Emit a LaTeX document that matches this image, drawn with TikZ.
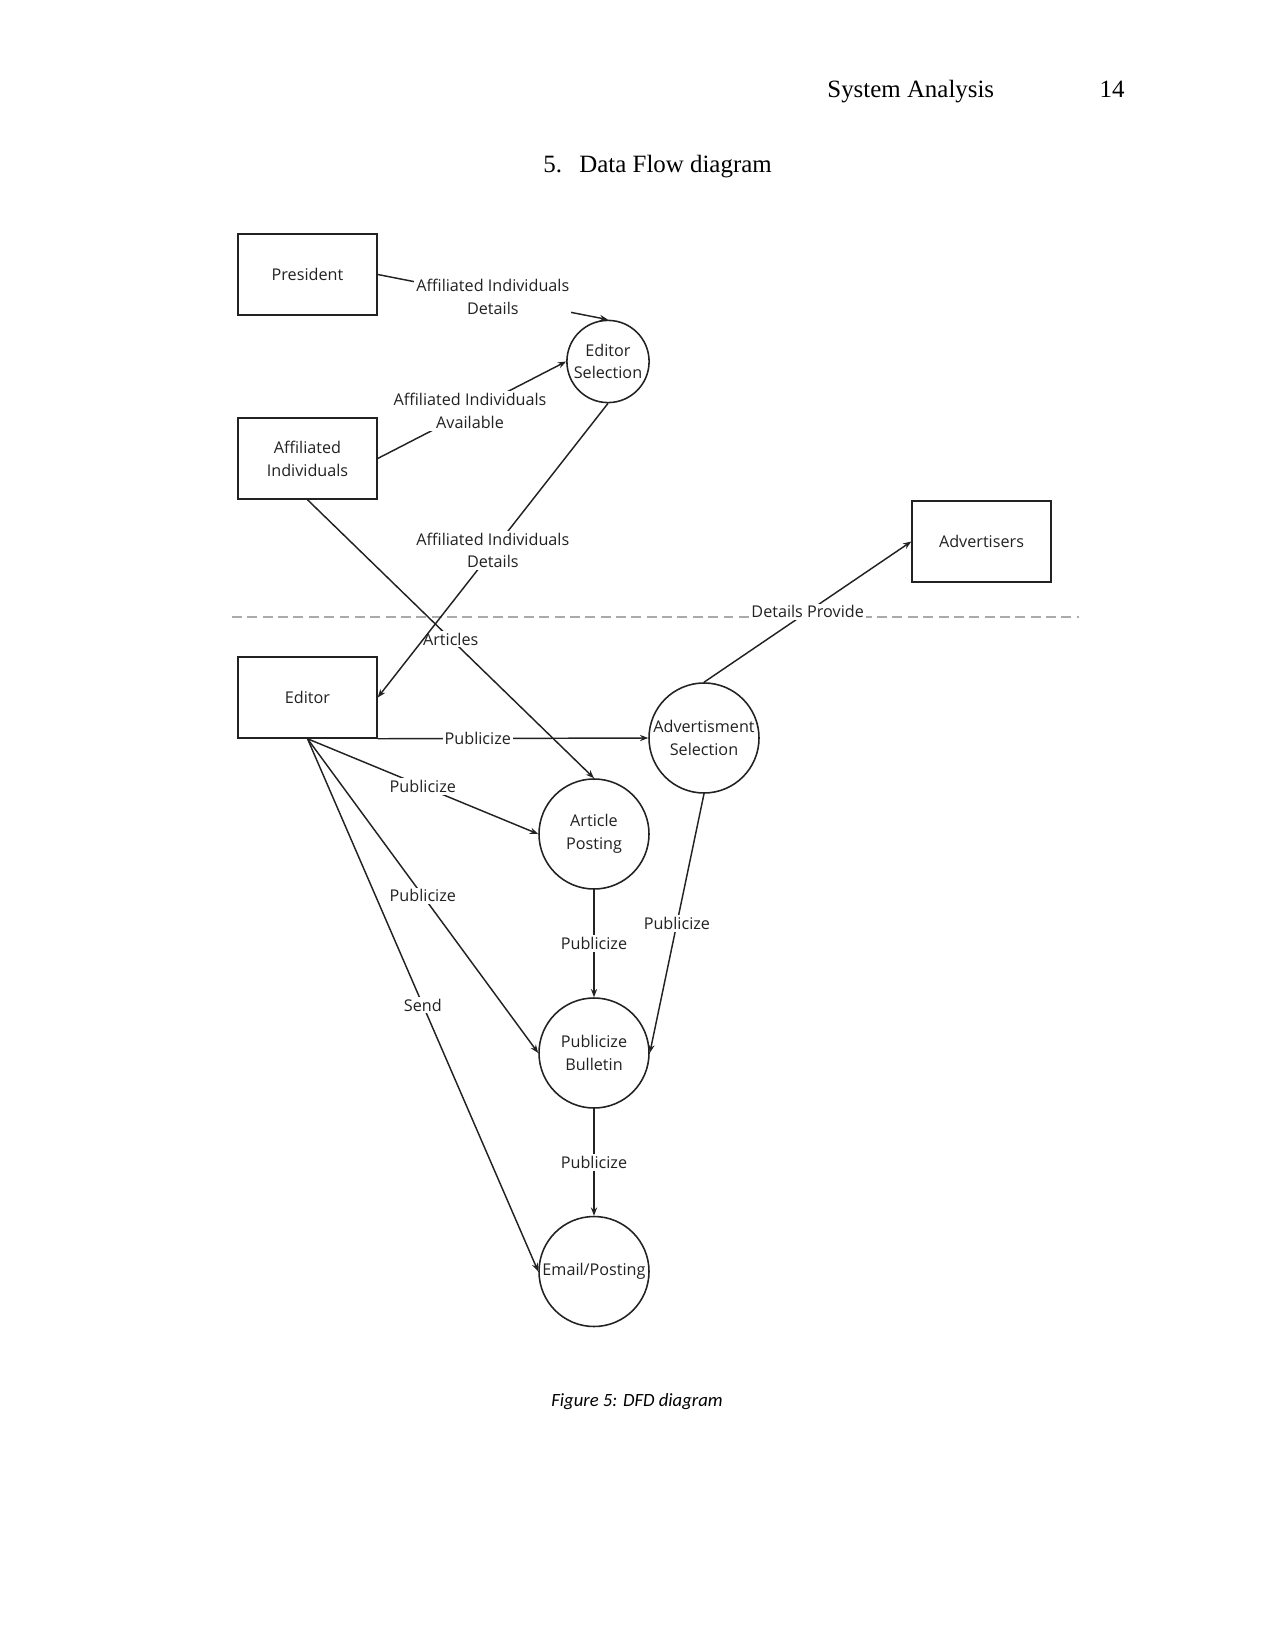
\documentclass[tikz,border=0pt]{standalone}
\usepackage{fontspec}
\setmainfont{Liberation Serif}
\newfontfamily\dfdfont{Open Sans}
\newfontfamily\capfont{Carlito}
\usetikzlibrary{arrows.meta}
\definecolor{ink}{HTML}{222222}
\definecolor{dashgray}{HTML}{AAAAAA}
\begin{document}
\begin{tikzpicture}[x=0.4818pt,y=-0.4818pt,
  every node/.style={inner sep=0pt},
  entity/.style={draw=ink,line width=0.75pt,minimum width=66.9pt,minimum height=39pt,font=\dfdfont\fontsize{7.8}{11}\selectfont,align=center,text=ink},
  proc/.style={draw=ink,circle,line width=0.75pt,minimum size=53pt,font=\dfdfont\fontsize{7.8}{11}\selectfont,align=center,text=ink},
  smallproc/.style={proc,minimum size=39.6pt},
  flow/.style={draw=ink,line width=0.7pt,-{Stealth[length=4pt,width=3pt]}},
  lbl/.style={fill=white,inner sep=1pt,font=\dfdfont\fontsize{7.8}{11}\selectfont,align=center,text=ink},
  hdr/.style={font=\fontsize{12}{14}\selectfont}]
\useasboundingbox (0,0) rectangle (1275,1651);
\fill[white] (0,0) rectangle (1275,1651);

% header and title
\node[hdr,anchor=base west] (hdrtitle) at (827,98) {System Analysis};
\node[hdr,anchor=base east] (hdrpage) at (1125,98) {14};
\node[hdr,anchor=base west] (secnum) at (543,173) {5.};
\node[hdr,anchor=base west] (sectitle) at (579,173) {Data Flow diagram};

% boundary line
\coordinate (dashL) at (232,617);
\coordinate (dashR) at (1079,617);
\draw[dashgray,line width=0.7pt,dash pattern=on 4.8pt off 2.6pt] (dashL) -- (dashR);

% entities
\node[entity] (pres) at (307.5,274.5) {President};
\node[entity] (aff) at (307.5,458.5) {Affiliated\\Individuals};
\node[entity] (edit) at (307.5,697.5) {Editor};
\node[entity] (adv) at (981.5,541.5) {Advertisers};

% processes
\node[smallproc] (esel) at (608,361.5) {Editor\\Selection};
\node[proc] (asel) at (704,738) {Advertisment\\Selection};
\node[proc] (apost) at (594,834) {Article\\Posting};
\node[proc] (pbul) at (594,1053) {Publicize\\Bulletin};
\node[proc] (email) at (594,1271.5) {Email/Posting};

% flows
\draw[flow] (pres.east) -- node[lbl] {Affiliated Individuals\\Details} (esel.north);
\draw[flow] (aff.east) -- node[lbl,pos=0.49] {Affiliated Individuals\\Available} (esel.west);
\draw[flow] (aff.south) -- node[lbl,pos=0.5] {Articles} (apost.north);
\draw[flow] (esel.south) -- node[lbl,pos=0.5] {Affiliated Individuals\\Details} (edit.east);
\draw[flow] (asel.north) -- node[lbl,pos=0.5] {Details Provide} (adv.west);
\draw[flow] (edit.south east) -- node[lbl,pos=0.37] {Publicize} (asel.west);
\draw[flow] (edit.south) -- node[lbl,pos=0.5] {Publicize} (apost.west);
\draw[flow] (edit.south) -- node[lbl,pos=0.5] {Publicize} (pbul.west);
\draw[flow] (edit.south) -- node[lbl,pos=0.5] {Send} (email.west);
\draw[flow] (apost.south) -- node[lbl,pos=0.5] {Publicize} (pbul.north);
\draw[flow] (asel.south) -- node[lbl,pos=0.5] {Publicize} (pbul.east);
\draw[flow] (pbul.south) -- node[lbl,pos=0.5] {Publicize} (email.north);

% caption
\node[anchor=base,font=\capfont\itshape\fontsize{9}{11}\selectfont] (caption) at (637,1406) {Figure 5: DFD diagram};
\end{tikzpicture}
\end{document}
